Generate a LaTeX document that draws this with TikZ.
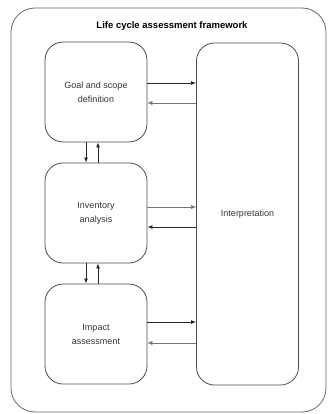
\documentclass[tikz,border=0pt]{standalone}
\usepackage{fontspec}
\setmainfont{Liberation Sans}
\usetikzlibrary{arrows.meta}
\begin{document}
\begin{tikzpicture}[x=1pt,y=-1pt,
  stage/.style={draw=black!70, line width=0.8pt, rounded corners=18pt, minimum width=102pt, minimum height=100pt, align=center, font=\fontsize{9}{14}\selectfont, text=black!80},
  strong/.style={-{Latex[length=5pt,width=4pt]}, line width=0.9pt, black!85},
  weak/.style={-{Latex[length=5pt,width=4pt]}, line width=0.5pt, black!55}]
\useasboundingbox (0,0) rectangle (331,414);
\draw[black!60, line width=0.8pt, rounded corners=24pt] (11,8) rectangle (326,412);
\node[font=\bfseries\fontsize{9.5}{11}\selectfont] (title) at (172,26) {Life cycle assessment framework};
\node[stage] (goal) at (96,92) {Goal and scope\\definition};
\node[stage] (inv) at (96,213) {Inventory\\analysis};
\node[stage] (imp) at (96,334) {Impact\\assessment};
\node[stage, minimum height=342pt] (interp) at (247.5,214) {Interpretation};
% horizontal arrows
\draw[strong] (goal.east |- 0,83) -- (interp.west |- 0,83);
\draw[weak] (interp.west |- 0,103) -- (goal.east |- 0,103);
\draw[weak] (inv.east |- 0,207) -- (interp.west |- 0,207);
\draw[strong] (interp.west |- 0,227) -- (inv.east |- 0,227);
\draw[strong] (imp.east |- 0,322) -- (interp.west |- 0,322);
\draw[weak] (interp.west |- 0,343) -- (imp.east |- 0,343);
% vertical arrows
\draw[strong] (goal.south -| 86,0) -- (inv.north -| 86,0);
\draw[strong] (inv.north -| 98,0) -- (goal.south -| 98,0);
\draw[strong] (inv.south -| 86,0) -- (imp.north -| 86,0);
\draw[strong] (imp.north -| 98,0) -- (inv.south -| 98,0);
\end{tikzpicture}
\end{document}
